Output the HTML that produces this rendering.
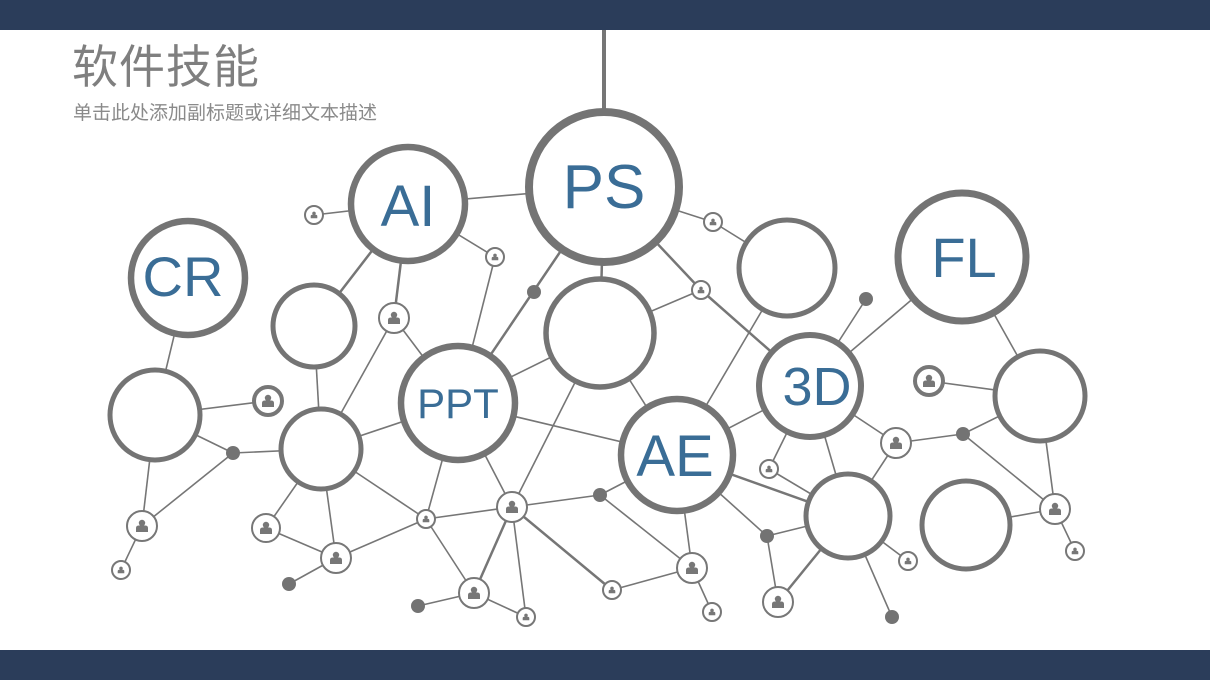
<!DOCTYPE html>
<html><head><meta charset="utf-8"><style>
html,body{margin:0;padding:0;background:#fff}
body{width:1210px;height:680px;position:relative;overflow:hidden;font-family:"Liberation Sans","Noto Sans CJK SC",sans-serif}
.bar{position:absolute;left:0;width:1210px;background:#2b3d5a}
.t{position:absolute;left:72px;top:44px;font-size:46px;color:#7f7f7f;line-height:1;letter-spacing:1px}
.s{position:absolute;left:73px;top:104px;font-size:19px;color:#8a8a8a;line-height:1}
svg{position:absolute;left:0;top:0}
</style></head><body>
<div class="bar" style="top:0;height:30px"></div>
<div class="bar" style="top:650px;height:30px"></div>
<div class="t">软件技能</div>
<div class="s">单击此处添加副标题或详细文本描述</div>
<svg width="1210" height="680" viewBox="0 0 1210 680">
<defs>
<g id="p"><circle cx="0" cy="-3" r="3.2" fill="#777"/><path d="M-6 6 V2 Q-6 -0.5 -3 -0.5 H3 Q6 -0.5 6 2 V6 Z" fill="#777"/></g>
</defs>
<g stroke="#767676" stroke-width="1.6" fill="none">
<line x1="604" y1="30" x2="604" y2="112" stroke-width="4"/>
<line x1="408" y1="204" x2="604" y2="187"/>
<line x1="604" y1="187" x2="713" y2="222"/><line x1="713" y1="222" x2="787" y2="268"/>
<line x1="604" y1="187" x2="701" y2="290" stroke-width="2.5"/>
<line x1="604" y1="187" x2="458" y2="403" stroke-width="2.5"/>
<line x1="604" y1="187" x2="600" y2="333" stroke-width="2.5"/>
<line x1="408" y1="204" x2="495" y2="257"/><line x1="495" y1="257" x2="458" y2="403"/>
<line x1="408" y1="204" x2="314" y2="326" stroke-width="2.5"/>
<line x1="408" y1="204" x2="394" y2="318" stroke-width="2.5"/>
<line x1="408" y1="204" x2="314" y2="215"/>
<line x1="188" y1="278" x2="155" y2="415"/>
<line x1="155" y1="415" x2="268" y2="401"/>
<line x1="155" y1="415" x2="233" y2="453"/><line x1="233" y1="453" x2="321" y2="449"/>
<line x1="155" y1="415" x2="142" y2="526"/><line x1="142" y1="526" x2="121" y2="570"/>
<line x1="142" y1="526" x2="233" y2="453"/>
<line x1="314" y1="326" x2="321" y2="449"/>
<line x1="394" y1="318" x2="321" y2="449"/><line x1="394" y1="318" x2="458" y2="403"/>
<line x1="321" y1="449" x2="458" y2="403"/>
<line x1="321" y1="449" x2="266" y2="528"/><line x1="321" y1="449" x2="336" y2="558"/>
<line x1="321" y1="449" x2="426" y2="519"/>
<line x1="266" y1="528" x2="336" y2="558"/><line x1="336" y1="558" x2="289" y2="584"/>
<line x1="336" y1="558" x2="426" y2="519"/>
<line x1="426" y1="519" x2="458" y2="403"/><line x1="426" y1="519" x2="512" y2="507"/>
<line x1="426" y1="519" x2="474" y2="593"/>
<line x1="512" y1="507" x2="458" y2="403"/>
<line x1="512" y1="507" x2="600" y2="495"/><line x1="600" y1="495" x2="677" y2="455"/>
<line x1="512" y1="507" x2="474" y2="593" stroke-width="2.5"/>
<line x1="512" y1="507" x2="526" y2="617"/>
<line x1="512" y1="507" x2="612" y2="590" stroke-width="2.5"/>
<line x1="474" y1="593" x2="418" y2="606"/><line x1="474" y1="593" x2="526" y2="617"/>
<line x1="458" y1="403" x2="600" y2="333"/><line x1="458" y1="403" x2="677" y2="455"/>
<line x1="600" y1="333" x2="701" y2="290"/><line x1="600" y1="333" x2="677" y2="455"/>
<line x1="600" y1="333" x2="512" y2="507"/>
<line x1="701" y1="290" x2="810" y2="386" stroke-width="2.5"/>
<line x1="677" y1="455" x2="787" y2="268"/>
<line x1="677" y1="455" x2="810" y2="386"/>
<line x1="677" y1="455" x2="848" y2="516" stroke-width="2.5"/>
<line x1="677" y1="455" x2="767" y2="536"/>
<line x1="677" y1="455" x2="692" y2="568"/>
<line x1="612" y1="590" x2="692" y2="568"/><line x1="692" y1="568" x2="712" y2="612"/>
<line x1="600" y1="495" x2="692" y2="568"/>
<line x1="810" y1="386" x2="866" y2="299"/><line x1="810" y1="386" x2="962" y2="257"/>
<line x1="810" y1="386" x2="769" y2="469"/><line x1="810" y1="386" x2="896" y2="443"/>
<line x1="810" y1="386" x2="848" y2="516"/>
<line x1="769" y1="469" x2="848" y2="516"/>
<line x1="848" y1="516" x2="767" y2="536"/><line x1="767" y1="536" x2="778" y2="602"/>
<line x1="848" y1="516" x2="778" y2="602" stroke-width="2.5"/>
<line x1="848" y1="516" x2="908" y2="561"/><line x1="848" y1="516" x2="892" y2="617"/>
<line x1="896" y1="443" x2="848" y2="516"/>
<line x1="896" y1="443" x2="963" y2="434"/><line x1="963" y1="434" x2="1040" y2="396"/>
<line x1="963" y1="434" x2="1055" y2="509"/>
<line x1="929" y1="381" x2="1040" y2="396"/>
<line x1="962" y1="257" x2="1040" y2="396"/>
<line x1="1040" y1="396" x2="1055" y2="509"/><line x1="1055" y1="509" x2="1075" y2="551"/>
<line x1="966" y1="525" x2="1055" y2="509"/>
</g>
<g fill="#fff" stroke="#747474">
<circle cx="604" cy="187" r="75" stroke-width="8"/>
<circle cx="408" cy="204" r="57" stroke-width="6.5"/>
<circle cx="188" cy="278" r="57" stroke-width="6.5"/>
<circle cx="962" cy="257" r="64" stroke-width="7"/>
<circle cx="458" cy="403" r="57" stroke-width="6.5"/>
<circle cx="677" cy="455" r="56" stroke-width="6.5"/>
<circle cx="810" cy="386" r="51" stroke-width="6"/>
<circle cx="314" cy="326" r="41" stroke-width="5"/>
<circle cx="600" cy="333" r="54" stroke-width="5.5"/>
<circle cx="787" cy="268" r="48" stroke-width="5"/>
<circle cx="155" cy="415" r="45" stroke-width="5"/>
<circle cx="321" cy="449" r="40" stroke-width="5"/>
<circle cx="1040" cy="396" r="45" stroke-width="5"/>
<circle cx="848" cy="516" r="42" stroke-width="5"/>
<circle cx="966" cy="525" r="44" stroke-width="5"/>
</g>
<g fill="#fff" stroke="#777" stroke-width="2">
<circle cx="314" cy="215" r="9"/><circle cx="495" cy="257" r="9"/><circle cx="394" cy="318" r="15"/>
<circle cx="268" cy="401" r="14" stroke-width="4"/><circle cx="142" cy="526" r="15"/><circle cx="121" cy="570" r="9"/>
<circle cx="266" cy="528" r="14"/><circle cx="336" cy="558" r="15"/><circle cx="426" cy="519" r="9"/>
<circle cx="512" cy="507" r="15"/><circle cx="474" cy="593" r="15"/><circle cx="526" cy="617" r="9"/>
<circle cx="612" cy="590" r="9"/><circle cx="692" cy="568" r="15"/><circle cx="712" cy="612" r="9"/>
<circle cx="713" cy="222" r="9"/><circle cx="701" cy="290" r="9"/><circle cx="769" cy="469" r="9"/>
<circle cx="896" cy="443" r="15"/><circle cx="929" cy="381" r="14" stroke-width="4"/><circle cx="908" cy="561" r="9"/>
<circle cx="778" cy="602" r="15"/><circle cx="1055" cy="509" r="15"/><circle cx="1075" cy="551" r="9"/>
</g>
<g>
<use href="#p" x="394" y="318"/><use href="#p" x="268" y="401"/><use href="#p" x="142" y="526"/>
<use href="#p" x="266" y="528"/><use href="#p" x="336" y="558"/><use href="#p" x="512" y="507"/>
<use href="#p" x="474" y="593"/><use href="#p" x="692" y="568"/><use href="#p" x="896" y="443"/>
<use href="#p" x="929" y="381"/><use href="#p" x="778" y="602"/><use href="#p" x="1055" y="509"/>
<g transform="translate(314 215) scale(.55)"><use href="#p"/></g>
<g transform="translate(495 257) scale(.55)"><use href="#p"/></g>
<g transform="translate(121 570) scale(.55)"><use href="#p"/></g>
<g transform="translate(426 519) scale(.55)"><use href="#p"/></g>
<g transform="translate(526 617) scale(.55)"><use href="#p"/></g>
<g transform="translate(612 590) scale(.55)"><use href="#p"/></g>
<g transform="translate(712 612) scale(.55)"><use href="#p"/></g>
<g transform="translate(713 222) scale(.55)"><use href="#p"/></g>
<g transform="translate(701 290) scale(.55)"><use href="#p"/></g>
<g transform="translate(769 469) scale(.55)"><use href="#p"/></g>
<g transform="translate(908 561) scale(.55)"><use href="#p"/></g>
<g transform="translate(1075 551) scale(.55)"><use href="#p"/></g>
</g>
<g fill="#737373">
<circle cx="534" cy="292" r="7"/><circle cx="233" cy="453" r="7"/><circle cx="289" cy="584" r="7"/>
<circle cx="418" cy="606" r="7"/><circle cx="600" cy="495" r="7"/><circle cx="767" cy="536" r="7"/>
<circle cx="866" cy="299" r="7"/><circle cx="963" cy="434" r="7"/><circle cx="892" cy="617" r="7"/>
</g>
<g fill="#3a6d96" font-family="Liberation Sans, sans-serif" text-anchor="middle">
<text x="604" y="208" font-size="62">PS</text>
<text x="408" y="226" font-size="58">AI</text>
<text x="183" y="296" font-size="56">CR</text>
<text x="964" y="277" font-size="56">FL</text>
<text x="458" y="418" font-size="42">PPT</text>
<text x="675" y="476" font-size="58">AE</text>
<text x="817" y="405" font-size="54">3D</text>
</g>
</svg>
</body></html>
